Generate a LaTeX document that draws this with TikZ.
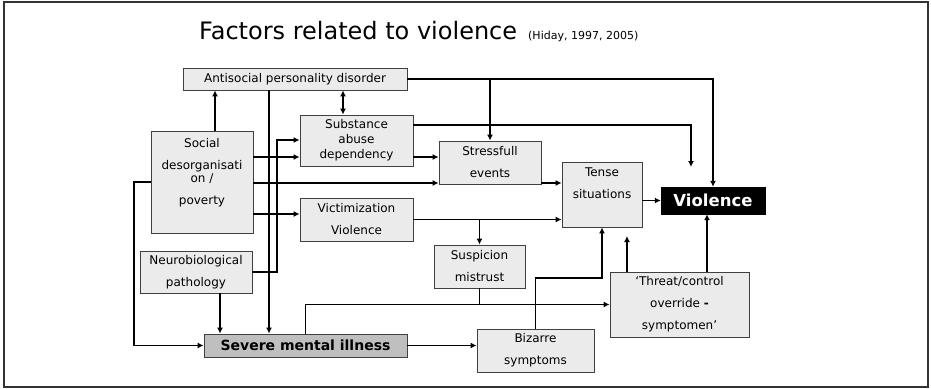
\documentclass[tikz,border=0pt]{standalone}
\usepackage{fontspec}
\setmainfont{DejaVu Sans}
\usetikzlibrary{arrows.meta}
\begin{document}
\begin{tikzpicture}[x=1pt,y=-1pt,
  box/.style={draw=black!75, line width=0.8pt, fill=black!8, align=center,
    inner sep=0pt, font=\fontsize{12}{22}\selectfont},
  arr/.style={line width=1.8pt, -{Latex[length=6pt,width=6pt]}},
  arrboth/.style={line width=1.8pt, {Latex[length=6pt,width=6pt]}-{Latex[length=6pt,width=6pt]}},
  line/.style={line width=1.8pt}]
\useasboundingbox (0,0) rectangle (931,388);
\draw[black!80, line width=2pt] (4,1.5) rectangle (928,386.5);

% title
\node[anchor=base west, inner sep=0pt, font=\fontsize{24}{28}\selectfont] (title) at (199,39)
  {Factors related to violence};
\node[anchor=base west, inner sep=0pt, font=\fontsize{11}{12}\selectfont] (ref) at (528,39)
  {(Hiday, 1997, 2005)};

% boxes
\node[box, minimum width=224, minimum height=22] (anti) at (295,79) {Antisocial personality disorder};
\node[box, minimum width=102, minimum height=102] (social) at (202,182)
  {Social\\desorganisati\\[-9pt]on /\\poverty\\\mbox{}};
\node[box, minimum width=113, minimum height=51, font=\fontsize{12}{15}\selectfont] (subst) at (356.5,140.5)
  {Substance\\abuse\\dependency};
\node[box, minimum width=113, minimum height=43] (victim) at (356.5,219.5) {Victimization\\Violence};
\node[box, minimum width=112, minimum height=42] (neuro) at (196,272) {Neurobiological\\pathology};
\node[box, minimum width=203, minimum height=23, fill=black!25,
  font=\fontsize{14}{16}\selectfont\bfseries] (severe) at (305.5,345.5) {Severe mental illness};
\node[box, minimum width=102, minimum height=43] (stress) at (490,162.5) {Stressfull\\events};
\node[box, minimum width=80, minimum height=65] (tense) at (602,194.5) {Tense\\situations\\\mbox{}};
\node[draw=black, fill=black, text=white, inner sep=0pt, minimum width=104, minimum height=27,
  font=\fontsize{16.5}{18}\selectfont\bfseries] (viol) at (713,200.5) {Violence};
\node[box, minimum width=91, minimum height=43] (susp) at (479.5,266.5) {Suspicion\\mistrust};
\node[box, minimum width=117, minimum height=43] (biz) at (535.5,350.5) {Bizarre\\symptoms};
\node[box, minimum width=139, minimum height=65] (threat) at (679.5,304.5)
  {‘Threat/control\\override \textbf{-}\\symptomen’};

% routing positions
\coordinate (xA) at (343,0);
\coordinate (xS) at (215,0);
\coordinate (xM) at (269,0);
\coordinate (xN) at (220,0);
\coordinate (xL) at (134,0);
\coordinate (xV) at (707,0);
\coordinate (yS1) at (0,157);
\coordinate (yS2) at (0,183);
\coordinate (yS3) at (0,214);
\coordinate (yU) at (0,125);
\coordinate (yB) at (0,278);
\coordinate (nj) at (277,140);
\coordinate (vtip) at (691,167);
\coordinate (ttip) at (627,236);

% connectors
\draw[arr] (anti.east) -| (viol.north);
\draw[arr] (anti.east -| stress.north) -- (stress.north);
\draw[arrboth] (anti.south -| xA) -- (subst.north -| xA);
\draw[arr] (social.north -| xS) -- (anti.south -| xS);
\draw[arr] (anti.south -| xM) -- (severe.north -| xM);
\draw[arr] (subst.east |- yU) -| (vtip);
\draw[arr] (subst.east |- yS1) -- (stress.west |- yS1);
\draw[arr] (social.east |- yS1) -- (subst.west |- yS1);
\draw[arr] (social.east |- yS2) -- (stress.west |- yS2);
\draw[arr] (social.east |- yS3) -- (victim.west |- yS3);
\draw[arr] (neuro.east) -| (nj) -- (subst.west |- nj);
\draw[arr] (social.west) -- (social.west -| xL) |- (severe.west);
\draw[arr] (neuro.south -| xN) -- (severe.north -| xN);
\draw[arr] (stress.east |- yS2) -- (tense.west |- yS2);
\draw[arr] (victim.east) -- (tense.west |- victim.east);
\draw[arr] (victim.east -| susp.north) -- (susp.north);
\draw[arr] (tense.east |- viol.west) -- (viol.west);
\draw[arr] (severe.north) |- (threat.west);
\draw[line] (susp.south) -- (susp.south |- threat.west);
\draw[arr] (severe.east) -- (biz.west |- severe.east);
\draw[arr] (biz.north) -- (biz.north |- yB) -| (tense.south);
\draw[arr] (threat.north -| ttip) -- (ttip);
\draw[arr] (threat.north -| xV) -- (viol.south -| xV);
\end{tikzpicture}
\end{document}
